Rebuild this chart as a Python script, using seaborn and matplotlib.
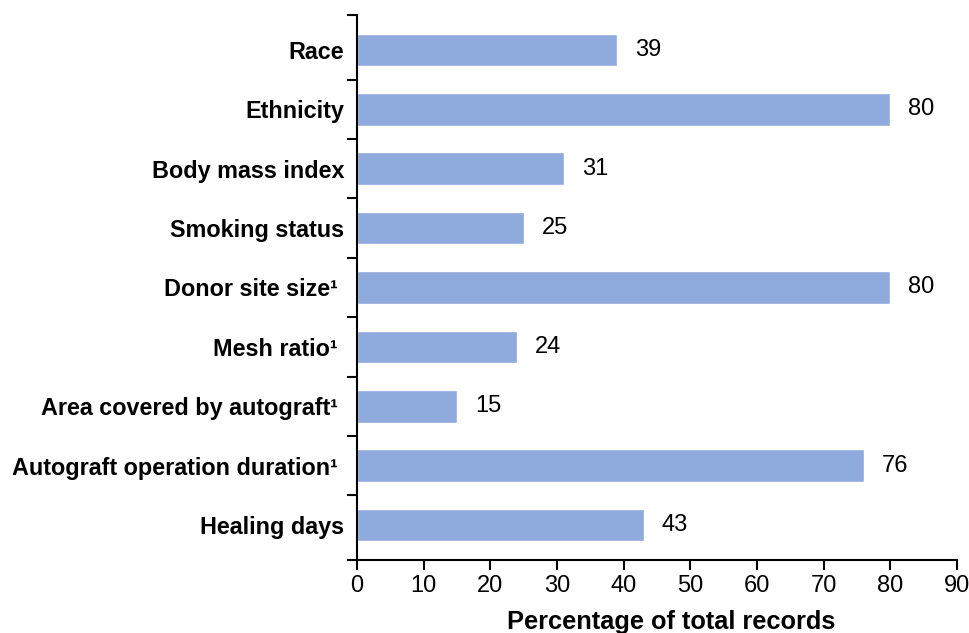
import matplotlib
matplotlib.use("Agg")
import matplotlib.pyplot as plt
import seaborn as sns
import pandas as pd
import numpy as np

categories = ["Race", "Ethnicity", "Body mass index", "Smoking status",
              "Donor site size\u00b9", "Mesh ratio\u00b9", "Area covered by autograft\u00b9",
              "Autograft operation duration\u00b9", "Healing days"]
values = [39, 80, 31, 25, 80, 24, 15, 76, 43]
xticks = [0, 10, 20, 30, 40, 50, 60, 70, 80, 90]

sns.set_theme(style="white")
plt.rcParams['font.family'] = ['Liberation Sans', 'DejaVu Sans']
plt.rcParams['text.color'] = 'black'
plt.rcParams['axes.labelcolor'] = 'black'
plt.rcParams['xtick.color'] = 'black'
plt.rcParams['ytick.color'] = 'black'

df = pd.DataFrame({"cat": categories, "val": values})

fig = plt.figure(figsize=(9.7, 6.33), dpi=100)
ax = fig.add_axes([357/970, 1 - 560/633, 600/970, 545/633])

sns.barplot(data=df, x="val", y="cat", orient="h", color="#8FAADC",
            saturation=1, width=0.55, ax=ax)

pad = 0.09
n = len(categories)
ax.set_ylim(n - 0.5 + pad, -0.5 - pad)
ax.set_xlim(0, 90)
ax.set_xticks(xticks)
ax.set_xticklabels([str(t) for t in xticks], fontsize=17)

# category labels at centers, ticks at boundaries
ax.set_yticks(np.arange(n))
shown = [c + "\u00a0" if c.endswith("\u00b9") else c for c in categories]
ax.set_yticklabels(shown, fontsize=16.8, fontweight="bold")
ax.tick_params(axis="y", which="major", length=0, pad=9)
bounds = [-0.5 - pad] + [i + 0.5 for i in range(n - 1)] + [n - 0.5 + pad]
ax.set_yticks(bounds, minor=True)
ax.tick_params(axis="y", which="minor", length=7, width=1.5, color="black", direction="out", left=True)
ax.tick_params(axis="x", which="major", length=7, width=1.5, color="black", direction="out",
               bottom=True, pad=4)

for s in ["top", "right"]:
    ax.spines[s].set_visible(False)
for s in ["left", "bottom"]:
    ax.spines[s].set_color("black")
    ax.spines[s].set_linewidth(1.5)

for i, v in enumerate(values):
    ax.text(v + 2.7, i, str(v), va="center", ha="left", fontsize=17, color="black")

ax.set_ylabel("")
ax.set_xlabel("Percentage of total records", fontsize=18.3, fontweight="bold")
ax.xaxis.set_label_coords((671 - 357) / 600, -0.092)

fig.savefig("out.png", dpi=100)
